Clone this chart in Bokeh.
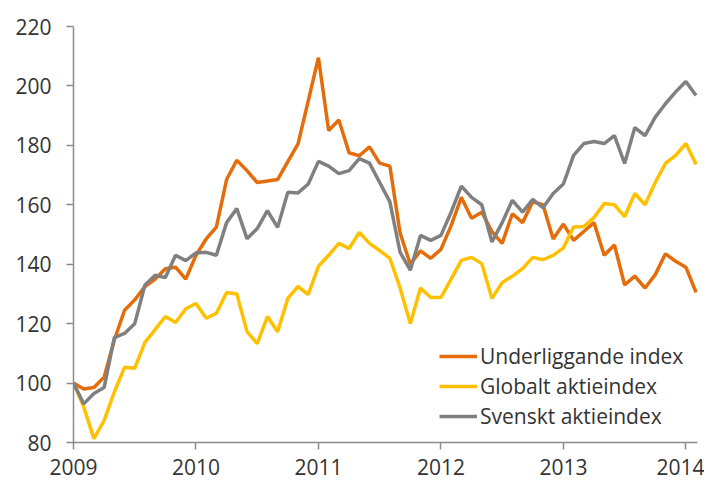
from bokeh.plotting import figure
from bokeh.models import Range1d, FixedTicker, Legend, LegendItem, ColumnDataSource
from bokeh.embed import file_html
from bokeh.resources import INLINE

# Monthly data, Jan 2009 - Feb 2014
start_year = 2009
underliggande = [
    100, 98, 98.5, 102, 114.5, 124.5, 128, 132.5, 135, 138.5, 139, 135,
    143, 148.5, 152.5, 168.5, 175, 171.5, 167.5, 168, 168.5, 174.5, 180.5, 195,
    209.5, 185, 188.5, 177.5, 176.5, 179.5, 174, 173, 150.5, 140, 144.5, 142,
    145, 153, 162.5, 155.5, 157.5, 151, 147, 157, 154, 161, 160, 148.5,
    153.5, 148, 151, 154, 143, 146.5, 133, 136, 132, 136.5, 143.5, 141,
    139, 130.5,
]
globalt = [
    100, 92, 81.3, 87.4, 97, 105.3, 105, 113.7, 118, 122.4, 120.4, 125,
    126.8, 121.8, 123.5, 130.5, 130, 117.3, 113.3, 122.4, 117.3, 128.5, 132.5, 129.8,
    139.3, 143, 147, 145.3, 150.7, 147, 144.6, 142, 132, 120, 132, 128.8,
    128.8, 135, 141.3, 142.3, 140.2, 128.5, 133.8, 136, 138.5, 142.3, 141.5, 143,
    145.5, 152.5, 152.7, 155.7, 160.4, 160, 156, 163.8, 160, 167.5, 173.9, 176.6,
    180.6, 173.6,
]
svenskt = [
    100, 93, 96.5, 98.5, 115.3, 116.7, 120, 133, 136.3, 135.5, 143, 141.2,
    143.8, 144, 143, 154, 158.7, 148.6, 152, 158, 152.4, 164.2, 164, 167,
    174.6, 173, 170.5, 171.5, 175.5, 174, 167.5, 161, 144, 138, 149.7, 148,
    149.7, 157.5, 166.3, 162.5, 160, 147.5, 154, 161.5, 157.5, 161.8, 159, 163.8,
    167, 176.6, 180.6, 181.3, 180.6, 183.3, 173.9, 186, 183.3, 189.5, 194, 198,
    201.5, 196.8,
]
series_names = ["Underliggande index", "Globalt aktieindex", "Svenskt aktieindex"]
x_ticks = [2009, 2010, 2011, 2012, 2013, 2014]
x_tick_labels = ["2009", "2010", "2011", "2012", "2013", "2014"]
y_ticks = [80, 100, 120, 140, 160, 180, 200, 220]

t = [start_year + i / 12 for i in range(len(underliggande))]
src = ColumnDataSource(dict(t=t, u=underliggande, g=globalt, s=svenskt))

FONT = "Open Sans"
TXT = "#333333"
AX = "#8c8c8c"

p = figure(width=704, height=481, output_backend="svg", toolbar_location=None,
           x_range=Range1d(2009, 2014.095), y_range=Range1d(80, 220),
           min_border_left=73, min_border_right=7, min_border_top=26,
           min_border_bottom=39)
p.outline_line_color = None
p.xgrid.visible = False
p.ygrid.visible = False

r1 = p.line("t", "u", source=src, line_color="#E46C0A", line_width=3.5)
r2 = p.line("t", "g", source=src, line_color="#FFC000", line_width=3.5)
r3 = p.line("t", "s", source=src, line_color="#808080", line_width=3.5)

for ax in (p.xaxis[0], p.yaxis[0]):
    ax.axis_line_color = AX
    ax.axis_line_width = 1.5
    ax.major_tick_line_color = AX
    ax.major_tick_line_width = 1.5
    ax.major_tick_in = 0
    ax.major_tick_out = 7
    ax.minor_tick_line_color = None
    ax.major_label_text_font = FONT
    ax.major_label_text_font_size = "21px"
    ax.major_label_text_color = TXT

p.xaxis.ticker = FixedTicker(ticks=x_ticks)
p.xaxis.major_label_overrides = {k: v for k, v in zip(x_ticks, x_tick_labels)}
p.xaxis.major_label_standoff = 9
p.yaxis.ticker = FixedTicker(ticks=y_ticks)
p.yaxis.major_label_standoff = 15

legend = Legend(items=[LegendItem(label=n, renderers=[r]) for n, r in zip(series_names, [r1, r2, r3])],
                location=(366, 12), border_line_color=None, background_fill_alpha=0,
                label_text_font=FONT, label_text_font_size="21px", label_text_color=TXT,
                glyph_width=38, glyph_height=22, label_height=22, label_standoff=3,
                spacing=2, padding=0, margin=0)
p.add_layout(legend)

open("out.html", "w").write(file_html(p, INLINE))
